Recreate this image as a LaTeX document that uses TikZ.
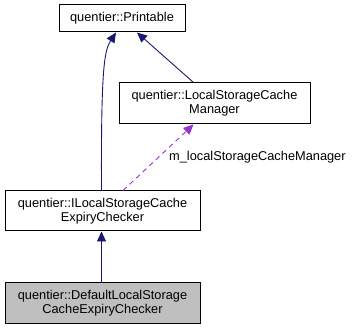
\documentclass[tikz,border=0pt]{standalone}
\usepackage{fontspec}
\setmainfont{Liberation Sans}
\usetikzlibrary{arrows.meta}

\definecolor{edgeblue}{HTML}{191970}
\definecolor{usepurple}{HTML}{9A32CD}
\definecolor{selfgray}{HTML}{BFBFBF}

\tikzset{
  classbox/.style={draw=black,line width=1pt,fill=white,align=center,inner sep=1pt,
    font=\fontsize{12.8}{14}\selectfont},
  inherit/.style={edgeblue,line width=0.9pt,-{Triangle[length=10pt,width=9pt]}},
  usage/.style={usepurple,line width=0.9pt,dash pattern=on 5pt off 4pt,
    -{Triangle[length=10pt,width=9pt]}}
}

\begin{document}
\begin{tikzpicture}[x=1pt,y=1pt]
\useasboundingbox (0,0) rectangle (353,331);

%classes
\node[classbox,minimum width=126pt,minimum height=27pt] (print) at (122,312.5) {quentier::Printable};
\node[classbox,minimum width=191pt,minimum height=41pt] (lscm) at (214.5,227.5) {quentier::LocalStorageCache\\Manager};
\node[classbox,minimum width=195pt,minimum height=40pt] (iexp) at (102.5,120) {quentier::ILocalStorageCache\\ExpiryChecker};
\node[classbox,fill=selfgray,minimum width=195pt,minimum height=41pt] (dexp) at (102.5,27.5) {quentier::DefaultLocalStorage\\CacheExpiryChecker};

%inheritance
\draw[inherit] ([xshift=-1pt]iexp.north) .. controls (101,260) and (104,280) .. ([xshift=-6pt]print.south);
\draw[inherit] ([xshift=-21pt]lscm.north) -- ([xshift=15pt]print.south);
\draw[inherit] ([xshift=-1pt]dexp.north) -- ([xshift=-1pt]iexp.south);

%member usage
\draw[usage] ([xshift=20.5pt]iexp.north) -- ([xshift=-21pt]lscm.south);
\node[anchor=west,inner sep=0pt,font=\fontsize{12.8}{14}\selectfont] (mlabel) at (169,174) {m\_localStorageCacheManager};

\end{tikzpicture}
\end{document}
